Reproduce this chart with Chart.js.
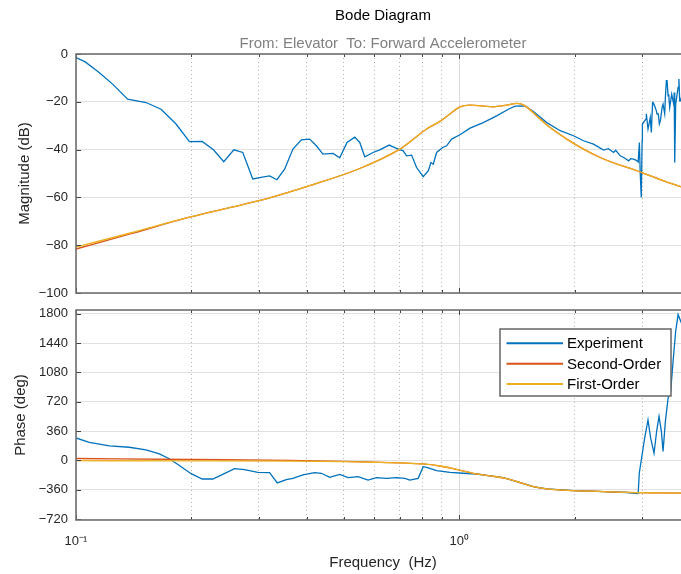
<!DOCTYPE html>
<html>
<head>
<meta charset="utf-8">
<script src="https://cdn.jsdelivr.net/npm/chart.js@4.4.1/dist/chart.umd.min.js"></script>
<style>
  html, body { margin: 0; padding: 0; background: #fff; overflow: hidden; width: 681px; height: 574px; }
  #caixaMag { position: absolute; left: 0; top: 0; width: 690px; height: 310px; }
  #caixaFase { position: absolute; left: 0; top: 300px; width: 690px; height: 274px; }
</style>
</head>
<body>
<div id="caixaMag"><canvas id="magCanvas" width="690" height="310"></canvas></div>
<div id="caixaFase"><canvas id="faseCanvas" width="690" height="274"></canvas></div>
<script>
const freqMagExp = [0.1, 0.1057, 0.1149, 0.1246, 0.1364, 0.1523, 0.1667, 0.1824, 0.1977, 0.2134, 0.2284, 0.243, 0.2581, 0.2724, 0.2892,
  0.3013, 0.32, 0.3344, 0.3502, 0.3681, 0.3873, 0.4071, 0.4238, 0.441, 0.4685, 0.4877, 0.5095, 0.5337, 0.55, 0.5668, 0.5958, 0.6203,
  0.6561, 0.686, 0.714, 0.7288, 0.751, 0.7738, 0.8053, 0.8299, 0.8435, 0.8553, 0.8727, 0.9049, 0.927, 0.9552, 1.004, 1.067, 1.155,
  1.252, 1.343, 1.398, 1.485, 1.561, 1.692, 1.834, 1.986, 2.11, 2.24, 2.38, 2.45, 2.527, 2.56, 2.631, 2.7, 2.766, 2.8, 2.851, 2.897,
  2.93, 2.951, 2.965, 2.985, 3.0, 3.005, 3.046, 3.071, 3.077, 3.108, 3.139, 3.151, 3.171, 3.195, 3.204, 3.234, 3.268, 3.281, 3.307,
  3.327, 3.348, 3.382, 3.402, 3.436, 3.45, 3.471, 3.485, 3.507, 3.519, 3.54, 3.583, 3.627, 3.638, 3.649, 3.67, 3.724, 3.742, 3.76,
  3.776, 3.8, 3.9, 4.0];
const magExp = [-1.5, -3.3, -7.7, -12.6, -18.9, -20.3, -23.1, -29.3, -36.7, -36.6, -40.1, -45.1, -40.1, -41.2, -52.3,
  -51.7, -51.0, -52.6, -48.2, -39.8, -35.9, -35.6, -38.4, -41.9, -41.6, -43.4, -37.0, -34.8, -37.0, -43.0, -41.2, -40.1,
  -38.1, -39.5, -40.5, -42.6, -42.3, -47.5, -51.3, -48.9, -45.4, -46.1, -41.2, -39.1, -38.4, -35.6, -33.8, -31.0, -28.7,
  -25.9, -23.1, -21.8, -21.7, -24.1, -28.7, -32.1, -34.2, -36.3, -37.7, -40.2, -39.6, -41.2, -40.3, -42.6, -43.5, -44.7, -43.8, -44.0, -44.5,
  -45.2, -37.0, -49.0, -60.0, -36.3, -29.3, -28.0, -27.2, -25.0, -31.4, -28.0, -26.6, -32.8, -20.3, -20.3, -21.7, -23.8, -25.1, -25.1,
  -29.3, -28.0, -22.4, -21.0, -25.0, -18.2, -11.2, -11.2, -17.5, -16.8, -22.4, -16.8, -21.0, -16.1, -45.4, -21.0, -14.0, -10.5, -19.6,
  -19.6, -18.2, -20.0, -17.0];

const freqMagFit = [0.1, 0.1377, 0.1977, 0.2514, 0.32, 0.407, 0.55, 0.7, 0.822, 0.89, 0.945, 1.004, 1.067, 1.155, 1.227, 1.33,
  1.413, 1.485, 1.592, 1.726, 1.908, 2.11, 2.332, 2.579, 2.797, 3.402, 3.8, 4.0];
const magPrimeira = [-80.8, -75.0, -68.3, -64.3, -60.2, -55.1, -47.9, -39.8, -31.4, -28.2, -25.1, -22.1, -21.4, -21.8, -22.1, -21.4,
  -20.7, -21.7, -25.9, -30.8, -35.6, -39.8, -43.3, -46.1, -47.9, -53.0, -55.6, -56.6];
const magSegunda = [-81.6, -75.4, -68.3, -64.3, -60.2, -55.1, -47.9, -39.8, -31.4, -28.2, -25.1, -22.1, -21.4, -21.8, -22.1, -21.4,
  -20.7, -21.7, -25.9, -30.8, -35.6, -39.8, -43.3, -46.1, -47.9, -53.0, -55.6, -56.6];

const freqFaseExp = [0.1, 0.1083, 0.1222, 0.1377, 0.1523, 0.165, 0.1752, 0.1861, 0.1997, 0.2135, 0.2275, 0.2415, 0.2592, 0.2752,
  0.2981, 0.32, 0.3351, 0.3538, 0.368, 0.391, 0.4195, 0.4367, 0.4592, 0.4877, 0.5127, 0.5444, 0.5781, 0.6081, 0.6457, 0.686,
  0.7211, 0.7433, 0.7811, 0.8053, 0.8218, 0.8727, 0.9456, 1.024, 1.11, 1.203, 1.303, 1.441, 1.561, 1.692, 1.986, 2.38, 2.738,
  2.91, 2.93, 2.95, 2.975, 3.046, 3.108, 3.158, 3.223, 3.273, 3.321, 3.368, 3.402, 3.45, 3.507, 3.561, 3.613, 3.67, 3.724,
  3.783, 3.85, 4.0];
const faseExp = [276, 223, 179, 162, 130, 81, 21, -61, -162, -227, -227, -170, -101, -113,
  -146, -150, -276, -235, -219, -178, -150, -157, -206, -170, -211, -199, -240, -211, -219, -211,
  -219, -240, -219, -76, -84, -125, -145, -157, -166, -190, -211, -273, -321, -348, -369, -381, -393,
  -405, -400, -150, -40, 273, 497, 273, 89, 356, 540, 356, 111, 479, 765, 846, 1214, 1583, 1788,
  1706, 1620, 1680];

const freqFaseFit = [0.1, 0.2, 0.36, 0.5, 0.596, 0.7, 0.805, 0.89, 0.984, 1.088, 1.203, 1.33, 1.441, 1.561, 1.692, 1.986,
  2.38, 2.738, 3.3, 3.8, 4.0];
const fasePrimeira = [-3, -5, -8, -14, -22, -30, -43, -68, -110, -157, -190, -222, -272, -321, -348, -369,
  -381, -392, -397, -400, -401];
const faseSegunda = [24, 12, 2, -10, -20, -30, -43, -68, -110, -157, -190, -222, -272, -321, -348, -369,
  -381, -392, -397, -400, -401];

const ticksX = [0.1, 0.2, 0.3, 0.4, 0.5, 0.6, 0.7, 0.8, 0.9, 1, 2, 3, 4];
const ticksMag = [-100, -80, -60, -40, -20, 0];
const ticksFase = [-720, -360, 0, 360, 720, 1080, 1440, 1800];

const nomes = ['Experiment', 'Second-Order', 'First-Order'];
const cores = ['#0072BD', '#D95319', '#EDB120'];

const fonte = "'Liberation Sans', Arial, Helvetica, sans-serif";
const pares = (xs, ys) => xs.map((x, i) => ({x: x, y: ys[i]}));
const ehDecada = (t) => t && (t.value === 0.1 || t.value === 1 || t.value === 10);

const serie = (i, dados, suave) => ({
  label: nomes[i],
  data: dados,
  borderColor: cores[i],
  backgroundColor: cores[i],
  borderWidth: 1.3,
  pointRadius: 0,
  fill: false,
  order: 2 - i,
  cubicInterpolationMode: suave ? 'monotone' : 'default',
  tension: 0
});

const eixoX = (comRotulos) => ({
  type: 'logarithmic',
  min: 0.1,
  max: 4,
  afterBuildTicks: (escala) => { escala.ticks = ticksX.map(v => ({value: v})); },
  afterFit: (escala) => {
    escala.height = comRotulos ? 54 : 0;
    escala.paddingRight = 0; // sem folga a direita, o eixo vai ate a borda
  },
  grid: {
    drawTicks: false,
    lineWidth: 1,
    color: (c) => ehDecada(c.tick) ? '#dcdcdc' : '#b4b4b4'
  },
  border: { display: false, dash: (c) => ehDecada(c.tick) ? [] : [1, 3] },
  ticks: {
    display: comRotulos,
    autoSkip: false,
    maxRotation: 0,
    padding: 14,
    color: '#262626',
    font: { family: fonte, size: 13 },
    callback: (v) => v === 0.1 ? '10⁻¹' : (v === 1 ? '10⁰' : '')
  },
  title: {
    display: comRotulos,
    text: 'Frequency  (Hz)',
    color: '#262626',
    font: { family: fonte, size: 15 },
    padding: { top: 0, bottom: 2 }
  }
});

const eixoY = (min, max, lista, texto, padTitulo) => ({
  min: min,
  max: max,
  afterBuildTicks: (escala) => { escala.ticks = lista.map(v => ({value: v})); },
  afterFit: (escala) => {
    escala.width = 76;
    escala.paddingTop = 0;
    escala.paddingBottom = 0;
  },
  grid: { drawTicks: false, color: '#e1e1e1', lineWidth: 1 },
  border: { display: false },
  ticks: {
    padding: 8,
    color: '#262626',
    font: { family: fonte, size: 13 },
    callback: (v) => v < 0 ? '\u2212' + Math.abs(v) : String(v)
  },
  title: {
    display: true,
    text: texto,
    color: '#262626',
    font: { family: fonte, size: 15 },
    padding: { top: padTitulo, bottom: 0 }
  }
});

// caixa do eixo com marcas para dentro, como no matlab
const moldura = {
  id: 'moldura',
  afterDraw(chart) {
    const {ctx, chartArea: a, scales} = chart;
    ctx.save();
    ctx.strokeStyle = '#404040';
    ctx.lineWidth = 1;
    ctx.beginPath();
    scales.x.ticks.forEach(t => {
      const px = Math.round(scales.x.getPixelForValue(t.value)) + 0.5;
      const len = ehDecada(t) ? 5 : 3;
      ctx.moveTo(px, a.bottom); ctx.lineTo(px, a.bottom - len);
      ctx.moveTo(px, a.top); ctx.lineTo(px, a.top + len);
    });
    scales.y.ticks.forEach(t => {
      const py = Math.round(scales.y.getPixelForValue(t.value)) + 0.5;
      ctx.moveTo(a.left, py); ctx.lineTo(a.left + 5, py);
      ctx.moveTo(a.right, py); ctx.lineTo(a.right - 5, py);
    });
    ctx.stroke();
    ctx.strokeStyle = '#707070';
    ctx.lineWidth = 1.6;
    ctx.strokeRect(a.left, a.top, a.right - a.left, a.bottom - a.top);
    ctx.restore();
  }
};

const legendaCaixa = {
  id: 'legendaCaixa',
  afterDraw(chart) {
    const ctx = chart.ctx;
    const cx = 500, cy = 29, cw = 171, ch = 67;
    ctx.save();
    ctx.fillStyle = '#ffffff';
    ctx.fillRect(cx, cy, cw, ch);
    ctx.strokeStyle = '#666666';
    ctx.lineWidth = 1.5;
    ctx.strokeRect(cx, cy, cw, ch);
    ctx.font = '15px ' + fonte;
    ctx.textBaseline = 'middle';
    chart.data.datasets.forEach((ds, i) => {
      const yy = cy + 15.3 + i * 20.4;
      ctx.strokeStyle = ds.borderColor;
      ctx.lineWidth = 2;
      ctx.beginPath();
      ctx.moveTo(506.5, yy - 1);
      ctx.lineTo(563, yy - 1);
      ctx.stroke();
      ctx.fillStyle = '#000000';
      ctx.fillText(ds.label, 567, yy);
    });
    ctx.restore();
  }
};

const graficoMag = new Chart(document.getElementById('magCanvas').getContext('2d'), {
  type: 'line',
  data: {
    datasets: [
      serie(0, pares(freqMagExp, magExp), false),
      serie(1, pares(freqMagFit, magSegunda), true),
      serie(2, pares(freqMagFit, magPrimeira), true)
    ]
  },
  options: {
    responsive: false,
    animation: false,
    devicePixelRatio: 1,
    layout: { padding: { left: 0, right: 0, top: 0, bottom: 17 } },
    scales: {
      x: eixoX(false),
      y: eixoY(-100, 0, ticksMag, 'Magnitude (dB)', 16)
    },
    plugins: {
      legend: { display: false },
      tooltip: { enabled: false },
      title: {
        display: true,
        text: 'Bode Diagram',
        fullSize: false,
        color: '#000000',
        font: { family: fonte, size: 15, weight: 'normal' },
        padding: { top: 6.5, bottom: 10.3 }
      },
      subtitle: {
        display: true,
        text: 'From: Elevator  To: Forward Accelerometer',
        fullSize: false,
        color: '#808080',
        font: { family: fonte, size: 15, weight: 'normal' },
        padding: { top: 0, bottom: 1.2 }
      }
    }
  },
  plugins: [moldura]
});

const graficoFase = new Chart(document.getElementById('faseCanvas').getContext('2d'), {
  type: 'line',
  data: {
    datasets: [
      serie(0, pares(freqFaseExp, faseExp), false),
      serie(1, pares(freqFaseFit, faseSegunda), true),
      serie(2, pares(freqFaseFit, fasePrimeira), true)
    ]
  },
  options: {
    responsive: false,
    animation: false,
    devicePixelRatio: 1,
    layout: { padding: { left: 0, right: 0, top: 10, bottom: 0 } },
    scales: {
      x: eixoX(true),
      y: eixoY(-730, 1845, ticksFase, 'Phase (deg)', 12)
    },
    plugins: {
      legend: { display: false },
      tooltip: { enabled: false }
    }
  },
  plugins: [moldura, legendaCaixa]
});
</script>
</body>
</html>
